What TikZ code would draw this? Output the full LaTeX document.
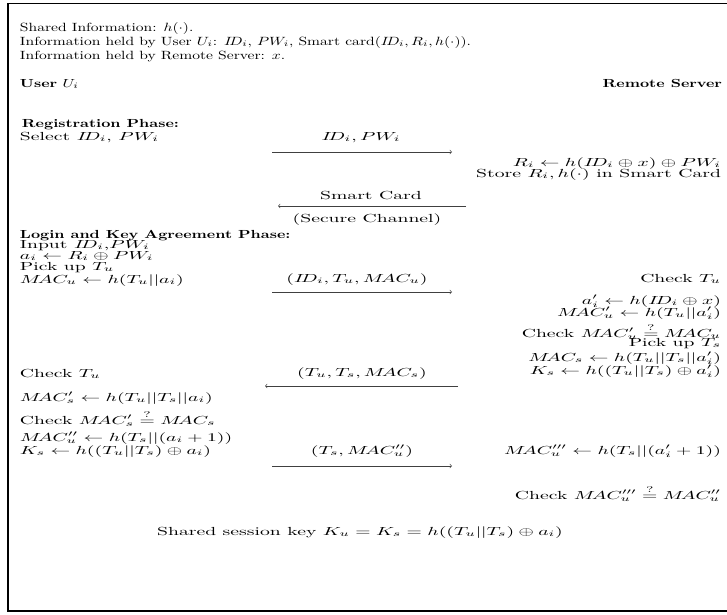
\documentclass[tikz,border=0pt]{standalone}
\usepackage{amsmath}
\usepackage{graphicx}
\newcommand{\hx}[1]{\scalebox{1.33}[1.02]{#1}}
\newcommand{\bx}[1]{\scalebox{1.36}[1]{#1}}
\newcommand{\mx}[1]{\scalebox{1.68}[1]{#1}}
\begin{document}
\begin{tikzpicture}[x=0.8547pt,y=-0.8547pt,
  every node/.style={inner sep=0pt,outer sep=0pt},
  lt/.style={anchor=base west},
  rt/.style={anchor=base east},
  ct/.style={anchor=base},
  msg/.style={draw=black!75,line width=0.5pt,-to}]
\useasboundingbox (0,0) rectangle (727,615);
% frame
\draw[line width=0.9pt] (7,3.5) -- (727,3.5);
\draw[line width=2pt] (8,3) -- (8,612);
\draw[line width=2.4pt] (7,611) -- (727,611);
% header
\node[lt] (h1) at (20,31) {\hx{Shared Information: $h(\cdot)$.}};
\node[lt] (h2) at (20,45) {\hx{Information held by User $U_i$: $I\!D_i$, $PW_i$, Smart card($I\!D_i, R_i, h(\cdot)$).}};
\node[lt] (h3) at (20,59) {\hx{Information held by Remote Server: $x$.}};
\node[lt] (user) at (20,87) {\bx{\textbf{User} $U_i$}};
\node[rt] (server) at (722,87) {\bx{\textbf{Remote Server}}};
% registration
\node[lt] (reg) at (22,127) {\bx{\textbf{Registration Phase:}}};
\node[lt] (sel) at (20,140) {\mx{Select $I\!D_i$, $PW_i$}};
\coordinate (a1s) at (272,152); \coordinate (a1e) at (452,152);
\node[ct] (l1) at (361,140) {\mx{$I\!D_i$,\,$PW_i$}};
\draw[msg] (a1s) -- (a1e);
\node[rt] (r1) at (721,166) {\mx{$R_i \leftarrow h(I\!D_i \oplus x) \oplus PW_i$}};
\node[rt] (r2) at (721,177) {\mx{Store $R_i, h(\cdot)$ in Smart Card}};
\coordinate (a2s) at (466,206); \coordinate (a2e) at (278,206);
\node[ct] (l2) at (371,199) {\mx{Smart Card}};
\draw[msg] (a2s) -- (a2e);
\node[ct] (l2b) at (367,222) {\mx{(Secure Channel)}};
% login
\node[lt] (log) at (20,238) {\bx{\textbf{Login and Key Agreement Phase:}}};
\node[lt] (u1) at (20,248) {\mx{Input $I\!D_i$,$PW_i$}};
\node[lt] (u2) at (20,259) {\mx{$a_i \leftarrow R_i \oplus PW_i$}};
\node[lt] (u3) at (20,270) {\mx{Pick up $T_u$}};
\node[lt] (u4) at (20,283) {\mx{$M\!AC_u \leftarrow h(T_u||a_i)$}};
\coordinate (a3s) at (272,292); \coordinate (a3e) at (452,292);
\node[ct] (l3) at (357,282) {\mx{$(I\!D_i, T_u, M\!AC_u)$}};
\draw[msg] (a3s) -- (a3e);
\node[rt] (s1) at (721,282) {\mx{Check $T_u$}};
\node[rt] (s2) at (721,304) {\mx{$a'_i \leftarrow h(I\!D_i \oplus x)$}};
\node[rt] (s3) at (721,316) {\mx{$M\!AC'_u \leftarrow h(T_u||a'_i)$}};
\node[rt] (s4) at (721,337) {\mx{Check $M\!AC'_u \stackrel{?}{=} M\!AC_u$}};
\node[rt] (s5) at (721,346) {\mx{Pick up $T_s$}};
\node[rt] (s6) at (721,361) {\mx{$M\!AC_s \leftarrow h(T_u||T_s||a'_i)$}};
\node[rt] (s7) at (721,374) {\mx{$K_s \leftarrow h((T_u||T_s) \oplus a'_i)$}};
\node[lt] (u5) at (20,377) {\mx{Check $T_u$}};
\coordinate (a4s) at (458,386); \coordinate (a4e) at (265,386);
\node[ct] (l4) at (362,376) {\mx{$(T_u, T_s, M\!AC_s)$}};
\draw[msg] (a4s) -- (a4e);
\node[lt] (u6) at (20,401) {\mx{$M\!AC'_s \leftarrow h(T_u||T_s||a_i)$}};
\node[lt] (u7) at (20,424) {\mx{Check $M\!AC'_s \stackrel{?}{=} M\!AC_s$}};
\node[lt] (u8) at (20,441) {\mx{$M\!AC''_u \leftarrow h(T_s||(a_i+1))$}};
\node[lt] (u9) at (20,454) {\mx{$K_s \leftarrow h((T_u||T_s) \oplus a_i)$}};
\coordinate (a5s) at (272,466); \coordinate (a5e) at (452,466);
\node[ct] (l5) at (362,454) {\mx{$(T_s, M\!AC''_u)$}};
\draw[msg] (a5s) -- (a5e);
\node[rt] (s8) at (721,454) {\mx{$M\!AC'''_u \leftarrow h(T_s||(a'_i+1))$}};
\node[rt] (s9) at (721,499) {\mx{Check $M\!AC'''_u \stackrel{?}{=} M\!AC''_u$}};
\node[ct] (key) at (360,535) {\mx{Shared session key $K_u = K_s = h((T_u||T_s) \oplus a_i)$}};
\end{tikzpicture}
\end{document}
